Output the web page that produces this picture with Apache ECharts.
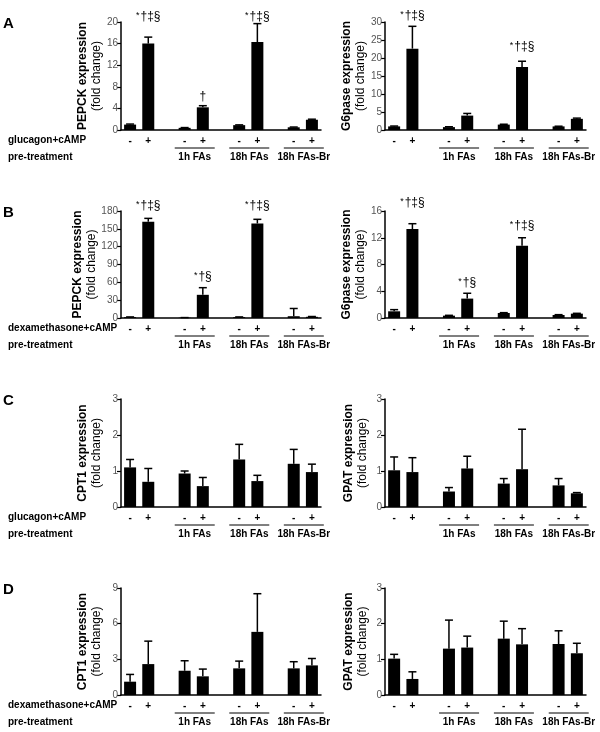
<!DOCTYPE html>
<html>
<head>
<meta charset="utf-8">
<script src="https://cdn.jsdelivr.net/npm/echarts@6/dist/echarts.min.js"></script>
<style>html,body{margin:0;padding:0;background:#fff;}#c{width:600px;height:732px;}</style>
</head>
<body>
<div id="c"></div>
<script>
// ---------- data ----------
const slotLabels = ['-', '+', '', '-', '+', '', '-', '+', '', '-', '+'];
const groupLabels = ['1h FAs', '18h FAs', '18h FAs-Br'];

// Panel A: glucagon+cAMP
const pepckGluc = [1.0, 16.0, 0.4, 4.2, 0.9, 16.3, 0.5, 1.9];
const pepckGlucErr = [0.1, 1.2, 0.05, 0.3, 0.05, 3.4, 0.05, 0.1];
const pepckGlucMarks = ['', '*†‡§', '', '†', '', '*†‡§', '', ''];
const pepckGlucMarkLevel = [0, 21.0, 0, 6.1, 0, 21.0, 0, 0];

const g6pGluc = [1.0, 22.6, 0.8, 4.0, 1.5, 17.5, 1.0, 3.1];
const g6pGlucErr = [0.1, 6.2, 0.1, 0.6, 0.1, 1.6, 0.05, 0.2];
const g6pGlucMarks = ['', '*†‡§', '', '', '', '*†‡§', '', ''];
const g6pGlucMarkLevel = [0, 31.7, 0, 0, 0, 23.1, 0, 0];

// Panel B: dexamethasone+cAMP
const pepckDex = [1.5, 162, 0.5, 39, 1.5, 159, 3, 2];
const pepckDexErr = [0.3, 5.6, 0.2, 12, 0.3, 7, 13, 0.5];
const pepckDexMarks = ['', '*†‡§', '', '*†§', '', '*†‡§', '', ''];
const pepckDexMarkLevel = [0, 188.5, 0, 69.5, 0, 188.5, 0, 0];

const g6pDex = [1.0, 13.3, 0.35, 2.9, 0.75, 10.8, 0.45, 0.65];
const g6pDexErr = [0.25, 0.8, 0.05, 0.8, 0.05, 1.2, 0.05, 0.05];
const g6pDexMarks = ['', '*†‡§', '', '*†§', '', '*†‡§', '', ''];
const g6pDexMarkLevel = [0, 17.2, 0, 5.35, 0, 13.8, 0, 0];

// Panel C: glucagon+cAMP
const cpt1Gluc = [1.1, 0.70, 0.93, 0.58, 1.32, 0.72, 1.2, 0.97];
const cpt1GlucErr = [0.22, 0.37, 0.07, 0.24, 0.42, 0.16, 0.4, 0.22];
const gpatGluc = [1.02, 0.97, 0.43, 1.07, 0.65, 1.05, 0.6, 0.38];
const gpatGlucErr = [0.37, 0.40, 0.11, 0.34, 0.14, 1.11, 0.19, 0.02];

// Panel D: dexamethasone+cAMP
const cpt1Dex = [1.12, 2.6, 2.04, 1.57, 2.24, 5.31, 2.24, 2.49];
const cpt1DexErr = [0.61, 1.93, 0.84, 0.61, 0.61, 3.21, 0.56, 0.58];
const gpatDex = [1.02, 0.45, 1.30, 1.33, 1.58, 1.42, 1.43, 1.17];
const gpatDexErr = [0.12, 0.20, 0.80, 0.32, 0.49, 0.44, 0.37, 0.28];

// axis ranges
const yMax = { pepckGluc: 20, g6pGluc: 30, pepckDex: 180, g6pDex: 16, cpt1Gluc: 3, gpatGluc: 3, cpt1Dex: 9, gpatDex: 3 };
const yStep = { pepckGluc: 4, g6pGluc: 5, pepckDex: 30, g6pDex: 4, cpt1Gluc: 1, gpatGluc: 1, cpt1Dex: 3, gpatDex: 1 };

// ---------- layout ----------
const FONT = 'Liberation Sans, Arial, sans-serif';
const rowTop = [22, 211, 399, 588];
const rowH = [108, 107, 108, 107];
const colLeft = [121, 385];
const colW = [200, 201];

const panels = [
  { row: 0, col: 0, title: 'PEPCK expression', v: pepckGluc, e: pepckGlucErr, m: pepckGlucMarks, ml: pepckGlucMarkLevel, key: 'pepckGluc' },
  { row: 0, col: 1, title: 'G6pase expression', v: g6pGluc, e: g6pGlucErr, m: g6pGlucMarks, ml: g6pGlucMarkLevel, key: 'g6pGluc' },
  { row: 1, col: 0, title: 'PEPCK expression', v: pepckDex, e: pepckDexErr, m: pepckDexMarks, ml: pepckDexMarkLevel, key: 'pepckDex' },
  { row: 1, col: 1, title: 'G6pase expression', v: g6pDex, e: g6pDexErr, m: g6pDexMarks, ml: g6pDexMarkLevel, key: 'g6pDex' },
  { row: 2, col: 0, title: 'CPT1 expression', v: cpt1Gluc, e: cpt1GlucErr, key: 'cpt1Gluc' },
  { row: 2, col: 1, title: 'GPAT expression', v: gpatGluc, e: gpatGlucErr, key: 'gpatGluc' },
  { row: 3, col: 0, title: 'CPT1 expression', v: cpt1Dex, e: cpt1DexErr, key: 'cpt1Dex' },
  { row: 3, col: 1, title: 'GPAT expression', v: gpatDex, e: gpatDexErr, key: 'gpatDex' }
];

const slotOf = i => Math.floor(i / 2) * 3 + (i % 2);

const grids = [], xAxes = [], yAxes = [], series = [];
panels.forEach((p, k) => {
  grids.push({ left: colLeft[p.col], top: rowTop[p.row], width: colW[p.col], height: rowH[p.row], containLabel: false });
  xAxes.push({
    type: 'category', gridIndex: k, data: slotLabels, boundaryGap: true,
    axisLine: { lineStyle: { color: '#000', width: 1.5 } },
    axisTick: { show: false },
    axisLabel: { color: '#000', fontWeight: 'bold', fontSize: 10, fontFamily: FONT, margin: 6, interval: 0 }
  });
  yAxes.push({
    type: 'value', gridIndex: k, min: 0, max: yMax[p.key], interval: yStep[p.key],
    splitLine: { show: false },
    axisLine: { show: true, lineStyle: { color: '#000', width: 1.5 } },
    axisTick: { show: true, length: 4, lineStyle: { color: '#000', width: 1.2 } },
    axisLabel: { color: '#555', fontSize: 10, fontFamily: FONT, margin: 3 },
    name: '{a|' + p.title + '}\n{b|(fold change)}',
    nameLocation: 'middle', nameRotate: 90, nameGap: p.col === 0 ? 17 : 15,
    nameTextStyle: {
      fontFamily: FONT, color: '#000',
      rich: {
        a: { fontWeight: 'bold', fontSize: 12, lineHeight: 14, fontFamily: FONT, color: '#000' },
        b: { fontSize: 12, lineHeight: 14, fontFamily: FONT, color: '#000' }
      }
    }
  });

  const barData = slotLabels.map(() => '-');
  p.v.forEach((val, i) => { barData[slotOf(i)] = val; });
  series.push({
    type: 'bar', xAxisIndex: k, yAxisIndex: k, data: barData, barWidth: 12,
    itemStyle: { color: '#000' }, silent: true, animation: false
  });

  // error bars (upper only)
  series.push({
    type: 'custom', xAxisIndex: k, yAxisIndex: k, animation: false, silent: true, clip: false,
    data: p.v.map((val, i) => [slotOf(i), val, val + p.e[i]]),
    encode: { x: 0, y: [1, 2] },
    renderItem: function (params, api) {
      const base = api.coord([api.value(0), api.value(1)]);
      const top = api.coord([api.value(0), api.value(2)]);
      return {
        type: 'group', children: [
          { type: 'line', shape: { x1: base[0], y1: base[1], x2: top[0], y2: top[1] }, style: { stroke: '#000', lineWidth: 1.5 } },
          { type: 'line', shape: { x1: top[0] - 4, y1: top[1], x2: top[0] + 4, y2: top[1] }, style: { stroke: '#000', lineWidth: 1.5 } }
        ]
      };
    }
  });

  // significance marks
  if (p.m) {
    const md = [], mt = [];
    p.m.forEach((t, i) => { if (t) { md.push([slotOf(i), p.ml[i]]); mt.push(t); } });
    series.push({
      type: 'custom', xAxisIndex: k, yAxisIndex: k, animation: false, silent: true, clip: false,
      data: md, encode: { x: 0, y: 1 },
      renderItem: function (params, api) {
        const pt = api.coord([api.value(0), api.value(1)]);
        const t = mt[params.dataIndex];
        const txt = t.charAt(0) === '*' ? '{s|*}{n|' + t.slice(1) + '}' : '{n|' + t + '}';
        return {
          type: 'text', x: pt[0], y: pt[1],
          style: {
            text: txt, align: 'center', verticalAlign: 'middle', fontFamily: FONT, fill: '#000',
            rich: {
              s: { fontSize: 9, fontFamily: FONT, fill: '#000', verticalAlign: 'middle', padding: [0, 1, 2, 0] },
              n: { fontSize: 12, fontFamily: FONT, fill: '#000', verticalAlign: 'middle' }
            }
          }
        };
      }
    });
  }

  // pre-treatment group labels with underline
  series.push({
    type: 'custom', xAxisIndex: k, yAxisIndex: k, animation: false, silent: true, clip: false,
    data: [[3, 0], [6, 0], [9, 0]], encode: { x: 0, y: 1 },
    renderItem: function (params, api) {
      const a = api.coord([api.value(0), 0]);
      const b = api.coord([api.value(0) + 1, 0]);
      const cx = (a[0] + b[0]) / 2 + 1;
      const y0 = a[1];
      return {
        type: 'group', children: [
          { type: 'line', shape: { x1: cx - 20, y1: y0 + 18, x2: cx + 20, y2: y0 + 18 }, style: { stroke: '#000', lineWidth: 1 } },
          { type: 'text', x: cx, y: y0 + 27, style: { text: groupLabels[params.dataIndex], textAlign: 'center', textVerticalAlign: 'middle', fontSize: 10, fontWeight: 'bold', fontFamily: FONT, fill: '#000' } }
        ]
      };
    }
  });
});

// left-side labels and panel letters
const letters = ['A', 'B', 'C', 'D'];
const treatLabels = ['glucagon+cAMP', 'dexamethasone+cAMP', 'glucagon+cAMP', 'dexamethasone+cAMP'];
const graphics = [];
rowTop.forEach((t, r) => {
  const base = t + rowH[r];
  graphics.push({ type: 'text', left: 3, top: t - 6, style: { text: letters[r], font: 'bold 15px ' + FONT, fill: '#000' } });
  graphics.push({ type: 'text', left: 8, top: base + 5, style: { text: treatLabels[r], font: 'bold 10px ' + FONT, fill: '#000' } });
  graphics.push({ type: 'text', left: 8, top: base + 22, style: { text: 'pre-treatment', font: 'bold 10px ' + FONT, fill: '#000' } });
});

const chart = echarts.init(document.getElementById('c'), null, { renderer: 'canvas' });
chart.setOption({
  backgroundColor: '#fff',
  animation: false,
  textStyle: { fontFamily: FONT },
  grid: grids, xAxis: xAxes, yAxis: yAxes, series: series, graphic: graphics
});
</script>
</body>
</html>
